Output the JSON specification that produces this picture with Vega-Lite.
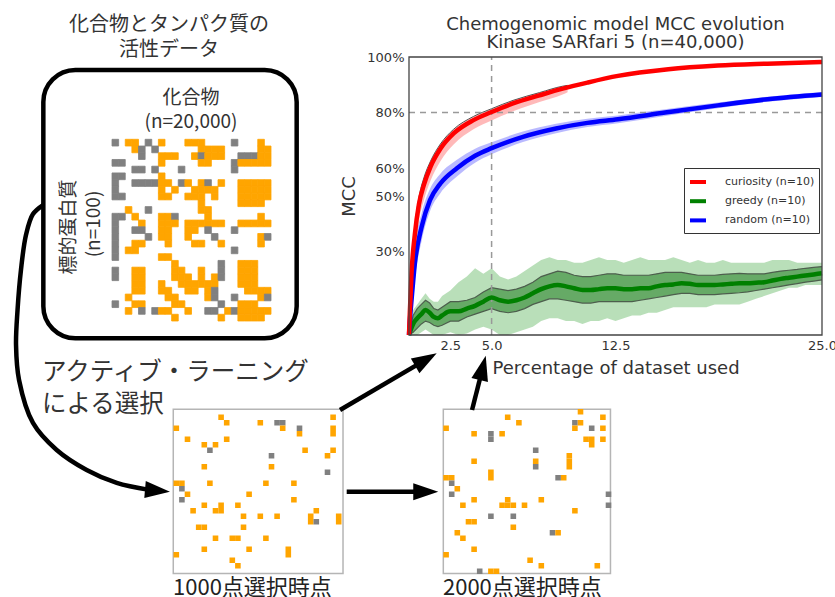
{
"$schema": "https://vega.github.io/schema/vega-lite/v6.json",
"width": 835, "height": 597, "autosize": {"type": "none"}, "padding": 0,
"background": "white",
"config": {"view": {"stroke": null}, "axis": {"labelFont": "DejaVu Sans", "titleFont": "DejaVu Sans"}},
"datasets": {
"roundBox": [{"u":5.19,"v":11.73,"u2":35.53,"v2":56.67}],
"smallBoxes": [{"u":20.75,"v":68.56,"u2":41.08,"v2":96.06},{"u":53.09,"v":68.56,"u2":73.11,"v2":96.06}],
"jpTitle": [{"t":"化合物とタンパク質の","u":20.24,"v":4.19},{"t":"活性データ","u":20.24,"v":8.38}],
"jpAxis": [{"t":"化合物","u":22.87,"v":16.47},{"t":"(n=20,000)","u":22.87,"v":20.39}],
"jpVert": [{"t":"標的蛋白質","u":8.26,"v":38.02},{"t":"(n=100)","u":11.26,"v":37.52}],
"jpAL": [{"t":"アクティブ・ラーニング","u":5.03,"v":62.48},{"t":"による選択","u":5.03,"v":67.84}],
"jpSel": [{"t":"1000点選択時点","u":20.72,"v":98.49},{"t":"2000点選択時点","u":53.05,"v":98.49}],
"chartTitle": [{"t":"Chemogenomic model MCC evolution","u":73.71,"v":4.19},{"t":"Kinase SARfari 5 (n=40,000)","u":73.71,"v":7.25}],
"curve": [{"i":0,"u":5.15,"v":34.34},{"i":1,"u":3.95,"v":35.85},{"i":2,"u":3.11,"v":39.36},{"i":3,"u":2.51,"v":45.23},{"i":4,"u":2.10,"v":51.93},{"i":5,"u":1.92,"v":57.79},{"i":6,"u":2.28,"v":63.65},{"i":7,"u":3.95,"v":70.85},{"i":8,"u":6.79,"v":75.38},{"i":9,"u":10.38,"v":78.73},{"i":10,"u":13.98,"v":80.90},{"i":11,"u":17.96,"v":82.08},{"i":12,"u":18.92,"v":82.24}],
"shafts": [{"u":41.52,"v":82.36,"u2":50.90,"v2":82.36},{"u":40.72,"v":68.68,"u2":51.02,"v2":60.23},{"u":56.53,"v":68.68,"u2":57.81,"v2":61.64}],
"heads": [{"u":18.86,"v":82.18,"a":5},{"u":50.99,"v":82.36,"a":0},{"u":51.01,"v":60.23,"a":-30.4},{"u":57.81,"v":61.61,"a":-76}],
"refs": [{"pct":5,"mcc":80}],
"big": [
{"c":0,"r":0,"k":"i"},{"c":2,"r":0,"k":"a"},{"c":3,"r":0,"k":"a"},{"c":5,"r":0,"k":"i"},{"c":7,"r":0,"k":"a"},{"c":11,"r":0,"k":"a"},{"c":12,"r":0,"k":"a"},{"c":13,"r":0,"k":"a"},{"c":18,"r":0,"k":"i"},{"c":22,"r":0,"k":"a"},
{"c":3,"r":1,"k":"a"},{"c":4,"r":1,"k":"i"},{"c":6,"r":1,"k":"i"},{"c":13,"r":1,"k":"a"},{"c":14,"r":1,"k":"a"},{"c":15,"r":1,"k":"a"},{"c":16,"r":1,"k":"a"},{"c":22,"r":1,"k":"a"},{"c":23,"r":1,"k":"a"},
{"c":4,"r":2,"k":"i"},{"c":7,"r":2,"k":"a"},{"c":8,"r":2,"k":"a"},{"c":9,"r":2,"k":"a"},{"c":12,"r":2,"k":"a"},{"c":13,"r":2,"k":"i"},{"c":14,"r":2,"k":"a"},{"c":15,"r":2,"k":"a"},{"c":16,"r":2,"k":"a"},{"c":19,"r":2,"k":"i"},{"c":20,"r":2,"k":"i"},{"c":21,"r":2,"k":"i"},{"c":22,"r":2,"k":"a"},{"c":23,"r":2,"k":"a"},
{"c":0,"r":3,"k":"i"},{"c":1,"r":3,"k":"i"},{"c":7,"r":3,"k":"a"},{"c":13,"r":3,"k":"a"},{"c":14,"r":3,"k":"a"},{"c":18,"r":3,"k":"i"},{"c":19,"r":3,"k":"a"},{"c":20,"r":3,"k":"a"},{"c":21,"r":3,"k":"a"},{"c":22,"r":3,"k":"a"},{"c":23,"r":3,"k":"a"},
{"c":3,"r":4,"k":"i"},{"c":4,"r":4,"k":"i"},{"c":6,"r":4,"k":"i"},{"c":10,"r":4,"k":"i"},{"c":18,"r":4,"k":"i"},
{"c":0,"r":5,"k":"i"},{"c":1,"r":5,"k":"i"},{"c":7,"r":5,"k":"a"},
{"c":0,"r":6,"k":"i"},{"c":3,"r":6,"k":"i"},{"c":4,"r":6,"k":"i"},{"c":5,"r":6,"k":"i"},{"c":6,"r":6,"k":"i"},{"c":7,"r":6,"k":"a"},{"c":8,"r":6,"k":"a"},{"c":10,"r":6,"k":"i"},{"c":11,"r":6,"k":"a"},{"c":13,"r":6,"k":"a"},{"c":14,"r":6,"k":"i"},{"c":16,"r":6,"k":"a"},{"c":19,"r":6,"k":"a"},{"c":20,"r":6,"k":"a"},{"c":21,"r":6,"k":"a"},{"c":22,"r":6,"k":"a"},{"c":23,"r":6,"k":"a"},
{"c":0,"r":7,"k":"i"},{"c":7,"r":7,"k":"a"},{"c":9,"r":7,"k":"a"},{"c":12,"r":7,"k":"a"},{"c":13,"r":7,"k":"a"},{"c":14,"r":7,"k":"a"},{"c":15,"r":7,"k":"a"},{"c":19,"r":7,"k":"a"},{"c":20,"r":7,"k":"a"},{"c":21,"r":7,"k":"a"},{"c":22,"r":7,"k":"a"},{"c":23,"r":7,"k":"a"},
{"c":0,"r":8,"k":"i"},{"c":1,"r":8,"k":"i"},{"c":7,"r":8,"k":"a"},{"c":8,"r":8,"k":"a"},{"c":11,"r":8,"k":"a"},{"c":12,"r":8,"k":"a"},{"c":13,"r":8,"k":"a"},{"c":15,"r":8,"k":"a"},{"c":19,"r":8,"k":"a"},{"c":20,"r":8,"k":"a"},{"c":21,"r":8,"k":"a"},{"c":22,"r":8,"k":"a"},{"c":23,"r":8,"k":"a"},
{"c":13,"r":9,"k":"a"},{"c":19,"r":9,"k":"a"},{"c":20,"r":9,"k":"a"},{"c":21,"r":9,"k":"a"},{"c":22,"r":9,"k":"a"},
{"c":2,"r":10,"k":"a"},{"c":5,"r":10,"k":"i"},{"c":13,"r":10,"k":"a"},{"c":14,"r":10,"k":"a"},
{"c":0,"r":11,"k":"i"},{"c":1,"r":11,"k":"i"},{"c":3,"r":11,"k":"a"},{"c":7,"r":11,"k":"a"},{"c":8,"r":11,"k":"a"},{"c":9,"r":11,"k":"i"},{"c":14,"r":11,"k":"a"},{"c":22,"r":11,"k":"a"},
{"c":0,"r":12,"k":"i"},{"c":4,"r":12,"k":"a"},{"c":7,"r":12,"k":"a"},{"c":8,"r":12,"k":"a"},{"c":9,"r":12,"k":"a"},{"c":11,"r":12,"k":"a"},{"c":12,"r":12,"k":"a"},{"c":13,"r":12,"k":"a"},{"c":14,"r":12,"k":"a"},{"c":15,"r":12,"k":"a"},{"c":16,"r":12,"k":"a"},{"c":19,"r":12,"k":"a"},{"c":20,"r":12,"k":"a"},{"c":21,"r":12,"k":"a"},{"c":22,"r":12,"k":"a"},{"c":23,"r":12,"k":"a"},
{"c":0,"r":13,"k":"i"},{"c":3,"r":13,"k":"i"},{"c":4,"r":13,"k":"i"},{"c":7,"r":13,"k":"a"},{"c":8,"r":13,"k":"a"},{"c":11,"r":13,"k":"a"},{"c":12,"r":13,"k":"a"},{"c":14,"r":13,"k":"i"},{"c":18,"r":13,"k":"i"},
{"c":0,"r":14,"k":"i"},{"c":5,"r":14,"k":"i"},{"c":7,"r":14,"k":"a"},{"c":8,"r":14,"k":"a"},{"c":11,"r":14,"k":"a"},{"c":15,"r":14,"k":"i"},{"c":22,"r":14,"k":"a"},{"c":23,"r":14,"k":"i"},
{"c":0,"r":15,"k":"i"},{"c":3,"r":15,"k":"a"},{"c":4,"r":15,"k":"a"},{"c":8,"r":15,"k":"a"},{"c":12,"r":15,"k":"a"},{"c":13,"r":15,"k":"a"},{"c":16,"r":15,"k":"a"},{"c":22,"r":15,"k":"a"},
{"c":0,"r":16,"k":"i"},{"c":2,"r":16,"k":"a"},{"c":3,"r":16,"k":"a"},{"c":18,"r":16,"k":"i"},
{"c":0,"r":17,"k":"i"},{"c":7,"r":17,"k":"a"},{"c":8,"r":17,"k":"a"},
{"c":9,"r":18,"k":"a"},{"c":16,"r":18,"k":"i"},{"c":19,"r":18,"k":"a"},{"c":20,"r":18,"k":"a"},{"c":21,"r":18,"k":"a"},
{"c":0,"r":19,"k":"i"},{"c":3,"r":19,"k":"a"},{"c":4,"r":19,"k":"a"},{"c":9,"r":19,"k":"a"},{"c":10,"r":19,"k":"a"},{"c":13,"r":19,"k":"a"},{"c":16,"r":19,"k":"i"},{"c":19,"r":19,"k":"a"},{"c":20,"r":19,"k":"a"},{"c":21,"r":19,"k":"a"},
{"c":0,"r":20,"k":"i"},{"c":3,"r":20,"k":"a"},{"c":4,"r":20,"k":"a"},{"c":9,"r":20,"k":"a"},{"c":10,"r":20,"k":"a"},{"c":11,"r":20,"k":"a"},{"c":13,"r":20,"k":"a"},{"c":15,"r":20,"k":"a"},{"c":16,"r":20,"k":"i"},{"c":19,"r":20,"k":"a"},{"c":20,"r":20,"k":"a"},{"c":21,"r":20,"k":"a"},
{"c":3,"r":21,"k":"a"},{"c":4,"r":21,"k":"a"},{"c":7,"r":21,"k":"a"},{"c":10,"r":21,"k":"a"},{"c":11,"r":21,"k":"a"},{"c":12,"r":21,"k":"a"},{"c":13,"r":21,"k":"a"},{"c":14,"r":21,"k":"a"},{"c":15,"r":21,"k":"a"},{"c":19,"r":21,"k":"a"},{"c":20,"r":21,"k":"a"},{"c":21,"r":21,"k":"a"},
{"c":3,"r":22,"k":"a"},{"c":4,"r":22,"k":"a"},{"c":7,"r":22,"k":"a"},{"c":8,"r":22,"k":"a"},{"c":11,"r":22,"k":"a"},{"c":12,"r":22,"k":"a"},{"c":14,"r":22,"k":"a"},{"c":15,"r":22,"k":"i"},{"c":20,"r":22,"k":"a"},{"c":21,"r":22,"k":"a"},{"c":22,"r":22,"k":"a"},{"c":23,"r":22,"k":"a"},
{"c":2,"r":23,"k":"a"},{"c":8,"r":23,"k":"a"},{"c":9,"r":23,"k":"a"},{"c":14,"r":23,"k":"a"},{"c":15,"r":23,"k":"i"},{"c":18,"r":23,"k":"i"},{"c":22,"r":23,"k":"a"},{"c":23,"r":23,"k":"i"},
{"c":0,"r":24,"k":"i"},{"c":3,"r":24,"k":"a"},{"c":4,"r":24,"k":"a"},{"c":9,"r":24,"k":"a"},{"c":10,"r":24,"k":"a"},{"c":16,"r":24,"k":"i"},{"c":19,"r":24,"k":"a"},{"c":20,"r":24,"k":"a"},{"c":21,"r":24,"k":"a"},
{"c":2,"r":25,"k":"a"},{"c":4,"r":25,"k":"i"},{"c":6,"r":25,"k":"i"},{"c":7,"r":25,"k":"a"},{"c":8,"r":25,"k":"a"},{"c":11,"r":25,"k":"a"},{"c":14,"r":25,"k":"i"},{"c":15,"r":25,"k":"i"},{"c":17,"r":25,"k":"a"},{"c":18,"r":25,"k":"i"},{"c":19,"r":25,"k":"a"},{"c":20,"r":25,"k":"a"},{"c":21,"r":25,"k":"a"},{"c":22,"r":25,"k":"a"},{"c":23,"r":25,"k":"a"},
{"c":9,"r":26,"k":"a"},{"c":16,"r":26,"k":"a"},{"c":19,"r":26,"k":"a"},{"c":20,"r":26,"k":"a"},{"c":21,"r":26,"k":"a"},{"c":22,"r":26,"k":"a"}
],
"s1": [
{"c":8,"r":1,"k":"a"},{"c":28,"r":1,"k":"a"},{"c":9,"r":2,"k":"a"},{"c":15,"r":2,"k":"a"},{"c":18,"r":2,"k":"i"},{"c":19,"r":2,"k":"i"},{"c":0,"r":3,"k":"a"},{"c":19,"r":3,"k":"a"},{"c":22,"r":3,"k":"i"},{"c":28,"r":3,"k":"a"},{"c":22,"r":4,"k":"a"},{"c":28,"r":4,"k":"a"},{"c":2,"r":5,"k":"a"},{"c":9,"r":5,"k":"a"},{"c":5,"r":6,"k":"a"},{"c":7,"r":6,"k":"a"},{"c":6,"r":7,"k":"i"},{"c":23,"r":7,"k":"a"},{"c":28,"r":7,"k":"a"},{"c":17,"r":8,"k":"i"},{"c":27,"r":8,"k":"a"},{"c":5,"r":10,"k":"a"},{"c":17,"r":10,"k":"a"},{"c":27,"r":11,"k":"i"},{"c":0,"r":13,"k":"a"},{"c":1,"r":13,"k":"a"},{"c":6,"r":13,"k":"a"},{"c":16,"r":13,"k":"a"},{"c":21,"r":13,"k":"a"},{"c":1,"r":14,"k":"i"},{"c":2,"r":15,"k":"a"},{"c":13,"r":15,"k":"a"},{"c":1,"r":16,"k":"i"},{"c":21,"r":16,"k":"a"},{"c":5,"r":17,"k":"a"},{"c":8,"r":17,"k":"a"},{"c":11,"r":17,"k":"a"},{"c":3,"r":18,"k":"a"},{"c":7,"r":18,"k":"a"},{"c":8,"r":18,"k":"a"},{"c":25,"r":18,"k":"a"},{"c":12,"r":19,"k":"a"},{"c":15,"r":19,"k":"a"},{"c":18,"r":19,"k":"a"},{"c":24,"r":19,"k":"a"},{"c":29,"r":19,"k":"a"},{"c":24,"r":20,"k":"a"},{"c":25,"r":20,"k":"i"},{"c":29,"r":20,"k":"a"},{"c":4,"r":21,"k":"a"},{"c":5,"r":21,"k":"a"},{"c":12,"r":21,"k":"a"},{"c":7,"r":23,"k":"a"},{"c":10,"r":23,"k":"a"},{"c":11,"r":23,"k":"a"},{"c":16,"r":23,"k":"a"},{"c":5,"r":25,"k":"a"},{"c":13,"r":25,"k":"a"},{"c":20,"r":25,"k":"a"},{"c":0,"r":26,"k":"a"},{"c":20,"r":26,"k":"a"},{"c":10,"r":27,"k":"a"},{"c":11,"r":28,"k":"a"}
],
"s2": [
{"c":24,"r":0,"k":"a"},{"c":11,"r":1,"k":"a"},{"c":28,"r":1,"k":"a"},{"c":13,"r":2,"k":"a"},{"c":23,"r":2,"k":"i"},{"c":24,"r":2,"k":"a"},{"c":0,"r":3,"k":"a"},{"c":23,"r":3,"k":"a"},{"c":26,"r":3,"k":"i"},{"c":28,"r":3,"k":"a"},{"c":5,"r":4,"k":"a"},{"c":8,"r":4,"k":"i"},{"c":10,"r":4,"k":"a"},{"c":8,"r":5,"k":"i"},{"c":25,"r":5,"k":"a"},{"c":26,"r":5,"k":"a"},{"c":28,"r":5,"k":"a"},{"c":26,"r":6,"k":"a"},{"c":16,"r":7,"k":"i"},{"c":22,"r":8,"k":"a"},{"c":5,"r":9,"k":"a"},{"c":16,"r":9,"k":"a"},{"c":22,"r":9,"k":"a"},{"c":16,"r":10,"k":"i"},{"c":22,"r":10,"k":"a"},{"c":8,"r":11,"k":"a"},{"c":0,"r":12,"k":"a"},{"c":1,"r":12,"k":"a"},{"c":8,"r":12,"k":"a"},{"c":20,"r":12,"k":"i"},{"c":21,"r":12,"k":"a"},{"c":1,"r":13,"k":"i"},{"c":2,"r":14,"k":"a"},{"c":1,"r":15,"k":"i"},{"c":29,"r":15,"k":"i"},{"c":5,"r":16,"k":"a"},{"c":11,"r":16,"k":"a"},{"c":17,"r":16,"k":"a"},{"c":3,"r":17,"k":"a"},{"c":10,"r":17,"k":"a"},{"c":11,"r":17,"k":"a"},{"c":12,"r":17,"k":"a"},{"c":14,"r":17,"k":"a"},{"c":29,"r":17,"k":"i"},{"c":23,"r":18,"k":"a"},{"c":8,"r":19,"k":"i"},{"c":12,"r":19,"k":"i"},{"c":4,"r":20,"k":"a"},{"c":5,"r":20,"k":"a"},{"c":12,"r":21,"k":"a"},{"c":2,"r":22,"k":"a"},{"c":19,"r":22,"k":"i"},{"c":20,"r":22,"k":"a"},{"c":3,"r":23,"k":"a"},{"c":5,"r":25,"k":"a"},{"c":0,"r":26,"k":"a"},{"c":15,"r":27,"k":"a"},{"c":17,"r":28,"k":"a"},{"c":27,"r":28,"k":"a"},{"c":6,"r":29,"k":"i"},{"c":8,"r":29,"k":"a"},{"c":9,"r":29,"k":"a"}
],
"gband": [
{"x":0,"lo":0,"hi":0,"slo":0,"shi":0},{"x":0.25,"lo":0,"hi":9,"slo":1,"shi":7},{"x":0.5,"lo":0,"hi":11,"slo":2.5,"shi":9.5},{"x":0.75,"lo":1,"hi":13,"slo":4,"shi":11},{"x":1,"lo":2,"hi":15,"slo":5,"shi":12.5},{"x":1.25,"lo":1,"hi":13,"slo":4.5,"shi":11.5},{"x":1.5,"lo":0,"hi":12,"slo":3.5,"shi":9.5},{"x":1.75,"lo":0,"hi":12,"slo":3,"shi":9},{"x":2,"lo":0,"hi":14,"slo":3.5,"shi":10},{"x":2.5,"lo":1,"hi":16,"slo":5,"shi":12},{"x":3,"lo":0,"hi":19,"slo":5,"shi":12},{"x":3.5,"lo":0.5,"hi":21,"slo":6.5,"shi":12.5},{"x":4,"lo":2,"hi":24,"slo":7.5,"shi":13.5},{"x":4.5,"lo":3,"hi":22,"slo":8.5,"shi":15.5},{"x":5,"lo":2,"hi":24,"slo":9.5,"shi":17},{"x":5.5,"lo":0,"hi":21,"slo":8.5,"shi":16.5},{"x":6,"lo":0,"hi":20,"slo":8,"shi":16},{"x":6.5,"lo":1,"hi":21,"slo":8.5,"shi":16.5},{"x":7,"lo":2,"hi":23,"slo":9.5,"shi":17.5},{"x":7.5,"lo":3,"hi":25,"slo":11,"shi":19},{"x":8,"lo":5,"hi":27,"slo":12,"shi":21},{"x":8.5,"lo":6,"hi":28,"slo":13,"shi":22},{"x":9,"lo":6,"hi":27,"slo":13,"shi":23},{"x":9.5,"lo":5,"hi":27,"slo":12.5,"shi":22.5},{"x":10,"lo":5,"hi":26,"slo":12,"shi":21.5},{"x":10.5,"lo":4,"hi":26,"slo":11.5,"shi":21},{"x":11,"lo":5,"hi":27,"slo":11.5,"shi":21},{"x":11.5,"lo":5,"hi":28,"slo":12,"shi":21.5},{"x":12,"lo":6,"hi":27,"slo":12,"shi":22},{"x":12.5,"lo":5,"hi":27,"slo":12,"shi":22},{"x":13,"lo":6,"hi":26,"slo":12,"shi":21.5},{"x":13.5,"lo":7,"hi":27,"slo":12,"shi":21.5},{"x":14,"lo":7,"hi":28,"slo":12.5,"shi":21.5},{"x":14.5,"lo":8,"hi":27,"slo":13,"shi":21.5},{"x":15,"lo":8,"hi":27,"slo":13.5,"shi":22},{"x":15.5,"lo":9,"hi":27,"slo":14,"shi":22.5},{"x":16,"lo":10,"hi":28,"slo":14.5,"shi":22.5},{"x":16.5,"lo":10,"hi":27,"slo":15,"shi":22.5},{"x":17,"lo":10,"hi":26,"slo":15,"shi":22},{"x":17.5,"lo":10,"hi":27,"slo":14.5,"shi":21.5},{"x":18,"lo":10,"hi":26,"slo":14.5,"shi":21.5},{"x":18.5,"lo":11,"hi":26,"slo":14.5,"shi":21.5},{"x":19,"lo":11,"hi":27,"slo":14.8,"shi":21.8},{"x":19.5,"lo":11,"hi":26,"slo":15,"shi":22},{"x":20,"lo":11,"hi":26,"slo":15.2,"shi":22.2},{"x":20.5,"lo":12,"hi":26,"slo":15.5,"shi":22},{"x":21,"lo":13,"hi":26,"slo":16,"shi":22},{"x":21.5,"lo":14,"hi":26,"slo":16.5,"shi":22},{"x":22,"lo":15,"hi":27,"slo":17,"shi":22.5},{"x":22.5,"lo":16,"hi":27,"slo":17.5,"shi":23},{"x":23,"lo":17,"hi":27,"slo":18,"shi":23.3},{"x":23.5,"lo":17,"hi":26,"slo":18.5,"shi":23.6},{"x":24,"lo":18,"hi":26,"slo":19,"shi":24},{"x":24.5,"lo":18,"hi":26,"slo":19.4,"shi":24.3},{"x":25,"lo":18,"hi":26,"slo":19.8,"shi":24.6}
],
"rband": [{"x":0,"lo":0,"hi":0},{"x":0.05,"lo":3,"hi":11},{"x":0.15,"lo":15,"hi":25},{"x":0.35,"lo":29,"hi":39},{"x":0.6,"lo":41,"hi":49.5},{"x":0.9,"lo":48.5,"hi":56.5},{"x":1.3,"lo":55.5,"hi":62.5},{"x":1.9,"lo":62.5,"hi":68.7},{"x":2.7,"lo":68.5,"hi":74},{"x":3.9,"lo":74,"hi":78.6},{"x":5,"lo":77.2,"hi":81.4},{"x":6.3,"lo":80.5,"hi":84.4},{"x":7.9,"lo":83.8,"hi":87.2},{"x":9.3,"lo":86.5,"hi":89.5},{"x":9.6,"lo":87.3,"hi":89.8}],
"bband": [{"x":0,"lo":0,"hi":0},{"x":0.05,"lo":1,"hi":9},{"x":0.16,"lo":7,"hi":19},{"x":0.36,"lo":20,"hi":32},{"x":0.77,"lo":34,"hi":44},{"x":1.27,"lo":44.5,"hi":52.5},{"x":1.9,"lo":51,"hi":58},{"x":2.9,"lo":57,"hi":63},{"x":4,"lo":62,"hi":67},{"x":5,"lo":65,"hi":69.3},{"x":6.9,"lo":69.4,"hi":73.2},{"x":8.9,"lo":72.6,"hi":76},{"x":10.8,"lo":74.8,"hi":77.8},{"x":12.65,"lo":76.2,"hi":79},{"x":15.5,"lo":78.8,"hi":81.2},{"x":18.7,"lo":81.6,"hi":83.6},{"x":21.7,"lo":83.9,"hi":85.7},{"x":25,"lo":85.6,"hi":87.4}],
"means": [
{"method":"greedy (n=10)","x":0,"mcc":0},{"method":"greedy (n=10)","x":0.25,"mcc":4},{"method":"greedy (n=10)","x":0.5,"mcc":6},{"method":"greedy (n=10)","x":0.75,"mcc":7.5},{"method":"greedy (n=10)","x":1,"mcc":9},{"method":"greedy (n=10)","x":1.25,"mcc":8},{"method":"greedy (n=10)","x":1.5,"mcc":6.5},{"method":"greedy (n=10)","x":1.75,"mcc":6},{"method":"greedy (n=10)","x":2,"mcc":7},{"method":"greedy (n=10)","x":2.5,"mcc":8.5},{"method":"greedy (n=10)","x":3,"mcc":8.5},{"method":"greedy (n=10)","x":3.5,"mcc":9.5},{"method":"greedy (n=10)","x":4,"mcc":10.5},{"method":"greedy (n=10)","x":4.5,"mcc":12},{"method":"greedy (n=10)","x":5,"mcc":13.5},{"method":"greedy (n=10)","x":5.5,"mcc":12.5},{"method":"greedy (n=10)","x":6,"mcc":12},{"method":"greedy (n=10)","x":6.5,"mcc":12.5},{"method":"greedy (n=10)","x":7,"mcc":13.5},{"method":"greedy (n=10)","x":7.5,"mcc":15},{"method":"greedy (n=10)","x":8,"mcc":16.5},{"method":"greedy (n=10)","x":8.5,"mcc":17.5},{"method":"greedy (n=10)","x":9,"mcc":18},{"method":"greedy (n=10)","x":9.5,"mcc":17.5},{"method":"greedy (n=10)","x":10,"mcc":16.8},{"method":"greedy (n=10)","x":10.5,"mcc":16.2},{"method":"greedy (n=10)","x":11,"mcc":16.2},{"method":"greedy (n=10)","x":11.5,"mcc":16.5},{"method":"greedy (n=10)","x":12,"mcc":16.8},{"method":"greedy (n=10)","x":12.5,"mcc":16.8},{"method":"greedy (n=10)","x":13,"mcc":16.5},{"method":"greedy (n=10)","x":13.5,"mcc":16.5},{"method":"greedy (n=10)","x":14,"mcc":16.8},{"method":"greedy (n=10)","x":14.5,"mcc":16.8},{"method":"greedy (n=10)","x":15,"mcc":17.5},{"method":"greedy (n=10)","x":15.5,"mcc":18},{"method":"greedy (n=10)","x":16,"mcc":18.2},{"method":"greedy (n=10)","x":16.5,"mcc":18.6},{"method":"greedy (n=10)","x":17,"mcc":18.4},{"method":"greedy (n=10)","x":17.5,"mcc":18},{"method":"greedy (n=10)","x":18,"mcc":18},{"method":"greedy (n=10)","x":18.5,"mcc":18},{"method":"greedy (n=10)","x":19,"mcc":18.2},{"method":"greedy (n=10)","x":19.5,"mcc":18.4},{"method":"greedy (n=10)","x":20,"mcc":18.6},{"method":"greedy (n=10)","x":20.5,"mcc":18.6},{"method":"greedy (n=10)","x":21,"mcc":18.8},{"method":"greedy (n=10)","x":21.5,"mcc":19},{"method":"greedy (n=10)","x":22,"mcc":19.6},{"method":"greedy (n=10)","x":22.5,"mcc":20.2},{"method":"greedy (n=10)","x":23,"mcc":20.6},{"method":"greedy (n=10)","x":23.5,"mcc":21},{"method":"greedy (n=10)","x":24,"mcc":21.4},{"method":"greedy (n=10)","x":24.5,"mcc":21.8},{"method":"greedy (n=10)","x":25,"mcc":22.2},
{"method":"random (n=10)","x":0,"mcc":0},{"method":"random (n=10)","x":0.05,"mcc":5},{"method":"random (n=10)","x":0.16,"mcc":13},{"method":"random (n=10)","x":0.36,"mcc":26},{"method":"random (n=10)","x":0.77,"mcc":39},{"method":"random (n=10)","x":1.27,"mcc":48.5},{"method":"random (n=10)","x":1.9,"mcc":54.5},{"method":"random (n=10)","x":2.9,"mcc":60},{"method":"random (n=10)","x":4,"mcc":64.5},{"method":"random (n=10)","x":5,"mcc":67.2},{"method":"random (n=10)","x":6.9,"mcc":71.3},{"method":"random (n=10)","x":8.9,"mcc":74.3},{"method":"random (n=10)","x":10.8,"mcc":76.3},{"method":"random (n=10)","x":12.65,"mcc":77.6},{"method":"random (n=10)","x":15.5,"mcc":80},{"method":"random (n=10)","x":18.7,"mcc":82.6},{"method":"random (n=10)","x":21.7,"mcc":84.8},{"method":"random (n=10)","x":25,"mcc":86.5},
{"method":"curiosity (n=10)","x":0,"mcc":0},{"method":"curiosity (n=10)","x":0.05,"mcc":8},{"method":"curiosity (n=10)","x":0.15,"mcc":22},{"method":"curiosity (n=10)","x":0.35,"mcc":36},{"method":"curiosity (n=10)","x":0.6,"mcc":47},{"method":"curiosity (n=10)","x":0.9,"mcc":54},{"method":"curiosity (n=10)","x":1.3,"mcc":60.5},{"method":"curiosity (n=10)","x":1.9,"mcc":67},{"method":"curiosity (n=10)","x":2.7,"mcc":72.5},{"method":"curiosity (n=10)","x":3.9,"mcc":77.3},{"method":"curiosity (n=10)","x":5,"mcc":80.2},{"method":"curiosity (n=10)","x":6.3,"mcc":83.3},{"method":"curiosity (n=10)","x":7.9,"mcc":86.2},{"method":"curiosity (n=10)","x":9.3,"mcc":88.6},{"method":"curiosity (n=10)","x":10.8,"mcc":90.8},{"method":"curiosity (n=10)","x":12.65,"mcc":93.2},{"method":"curiosity (n=10)","x":15.7,"mcc":95.6},{"method":"curiosity (n=10)","x":18.7,"mcc":96.9},{"method":"curiosity (n=10)","x":21.7,"mcc":97.6},{"method":"curiosity (n=10)","x":25,"mcc":98.2}
]
},
"layer": [
{
"layer": [
{"data":{"name":"roundBox"},"mark":{"type":"rect","cornerRadius":32,"stroke":"#000","strokeWidth":4.5,"fill":"transparent"},
 "encoding":{"x":{"field":"u","type":"quantitative","scale":{"domain":[0,100],"range":[0,835],"nice":false,"zero":false},"axis":null},
  "y":{"field":"v","type":"quantitative","scale":{"domain":[0,100],"range":[0,597],"nice":false,"zero":false},"axis":null},
  "x2":{"field":"u2"},"y2":{"field":"v2"}}},
{"data":{"name":"smallBoxes"},"mark":{"type":"rect","stroke":"#b5b5b5","strokeWidth":1.5,"fill":"transparent"},
 "encoding":{"x":{"field":"u","type":"quantitative"},"y":{"field":"v","type":"quantitative"},"x2":{"field":"u2"},"y2":{"field":"v2"}}}
]
},
{"data":{"name":"big"},"mark":{"type":"rect","strokeWidth":0.8},
 "encoding":{
  "x":{"field":"c","type":"ordinal","scale":{"domain":[0,1,2,3,4,5,6,7,8,9,10,11,12,13,14,15,16,17,18,19,20,21,22,23],"range":[112,271],"paddingInner":0,"paddingOuter":0},"axis":null},
  "y":{"field":"r","type":"ordinal","scale":{"domain":[0,1,2,3,4,5,6,7,8,9,10,11,12,13,14,15,16,17,18,19,20,21,22,23,24,25,26],"range":[139.3,321],"paddingInner":0,"paddingOuter":0},"axis":null},
  "color":{"field":"k","type":"nominal","scale":{"domain":["a","i"],"range":["#ffa500","#808080"]},"legend":null},
  "stroke":{"field":"k","type":"nominal","scale":{"domain":["a","i"],"range":["#ffa500","#808080"]},"legend":null}}},
{"data":{"name":"s1"},"mark":{"type":"rect"},
 "encoding":{
  "x":{"field":"c","type":"ordinal","scale":{"domain":[0,1,2,3,4,5,6,7,8,9,10,11,12,13,14,15,16,17,18,19,20,21,22,23,24,25,26,27,28,29],"range":[173.5,341.5],"paddingInner":0,"paddingOuter":0},"axis":null},
  "y":{"field":"r","type":"ordinal","scale":{"domain":[0,1,2,3,4,5,6,7,8,9,10,11,12,13,14,15,16,17,18,19,20,21,22,23,24,25,26,27,28,29],"range":[409,574],"paddingInner":0,"paddingOuter":0},"axis":null},
  "color":{"field":"k","type":"nominal","scale":{"domain":["a","i"],"range":["#ffa500","#808080"]},"legend":null}}},
{"data":{"name":"s2"},"mark":{"type":"rect"},
 "encoding":{
  "x":{"field":"c","type":"ordinal","scale":{"domain":[0,1,2,3,4,5,6,7,8,9,10,11,12,13,14,15,16,17,18,19,20,21,22,23,24,25,26,27,28,29],"range":[443.3,611.3],"paddingInner":0,"paddingOuter":0},"axis":null},
  "y":{"field":"r","type":"ordinal","scale":{"domain":[0,1,2,3,4,5,6,7,8,9,10,11,12,13,14,15,16,17,18,19,20,21,22,23,24,25,26,27,28,29],"range":[409,574],"paddingInner":0,"paddingOuter":0},"axis":null},
  "color":{"field":"k","type":"nominal","scale":{"domain":["a","i"],"range":["#ffa500","#808080"]},"legend":null}}},
{
"layer": [
{"data":{"name":"gband"},"mark":{"type":"area","color":"#b5ddb5","opacity":0.95},
 "encoding":{
  "x":{"field":"x","type":"quantitative","scale":{"domain":[0,25],"range":[409,822],"nice":false,"zero":false},
   "axis":{"orient":"bottom","offset":-262,"values":[2.5,5,12.5,25],"format":".1f","domain":false,"ticks":false,"grid":false,"labelFontSize":13,"labelColor":"#333","labelPadding":4,"labelFlush":false,"labelOverlap":false,"title":"Percentage of dataset used","titleFontSize":18,"titleFontWeight":"normal","titleColor":"#333","titlePadding":7}},
  "y":{"field":"hi","type":"quantitative","scale":{"domain":[0,100],"range":[335,57],"nice":false,"zero":false},
   "axis":{"orient":"left","offset":-409,"values":[30,50,60,80,100],"labelExpr":"datum.value + '%'","domain":false,"ticks":false,"grid":false,"labelFontSize":13,"labelColor":"#333","labelPadding":5,"labelOverlap":false,"title":"MCC","titleFontSize":18,"titleFontWeight":"normal","titleColor":"#333","titlePadding":8}},
  "y2":{"field":"lo"}}},
{"data":{"name":"gband"},"mark":{"type":"area","color":"#4b984b","opacity":0.75},
 "encoding":{"x":{"field":"x","type":"quantitative"},"y":{"field":"shi","type":"quantitative"},"y2":{"field":"slo"}}},
{"data":{"name":"gband"},"mark":{"type":"line","color":"#4d5e4d","strokeWidth":1.2},
 "encoding":{"x":{"field":"x","type":"quantitative"},"y":{"field":"shi","type":"quantitative"}}},
{"data":{"name":"gband"},"mark":{"type":"line","color":"#4d5e4d","strokeWidth":1.2},
 "encoding":{"x":{"field":"x","type":"quantitative"},"y":{"field":"slo","type":"quantitative"}}},
{"data":{"name":"bband"},"mark":{"type":"area","color":"#7f7fff","opacity":0.55,"interpolate":"monotone"},
 "encoding":{"x":{"field":"x","type":"quantitative"},"y":{"field":"hi","type":"quantitative"},"y2":{"field":"lo"}}},
{"data":{"name":"rband"},"mark":{"type":"area","color":"#ff8080","opacity":0.55,"interpolate":"monotone"},
 "encoding":{"x":{"field":"x","type":"quantitative"},"y":{"field":"hi","type":"quantitative"},"y2":{"field":"lo"}}},
{"data":{"name":"rband"},"mark":{"type":"line","color":"#555555","strokeWidth":1,"interpolate":"monotone"},
 "encoding":{"x":{"field":"x","type":"quantitative"},"y":{"field":"hi","type":"quantitative"}}},
{"data":{"name":"refs"},"mark":{"type":"rule","color":"#999999","strokeWidth":1.5,"strokeDash":[6,5]},
 "encoding":{"x":{"datum":0,"type":"quantitative"},"x2":{"datum":25},"y":{"field":"mcc","type":"quantitative"}}},
{"data":{"name":"refs"},"mark":{"type":"rule","color":"#999999","strokeWidth":1.5,"strokeDash":[6,5]},
 "encoding":{"x":{"field":"pct","type":"quantitative"},"y":{"datum":0,"type":"quantitative"},"y2":{"datum":100}}},
{"data":{"name":"means"},"mark":{"type":"line","strokeWidth":4.5,"interpolate":"monotone"},
 "encoding":{"x":{"field":"x","type":"quantitative"},"y":{"field":"mcc","type":"quantitative"},
  "color":{"field":"method","type":"nominal","scale":{"domain":["curiosity (n=10)","greedy (n=10)","random (n=10)"],"range":["#ff0000","#008000","#0000ff"]},
   "legend":{"orient":"none","legendX":684,"legendY":168,"title":null,"direction":"vertical","symbolType":"stroke","symbolStrokeWidth":4,"symbolSize":256,"labelFont":"DejaVu Sans","labelFontSize":11,"labelColor":"#333","strokeColor":"#333","fillColor":"#ffffff","padding":4,"rowPadding":1.2,"labelOffset":17}}}},
{"data":{"name":"refs"},"mark":{"type":"rect","fill":"transparent","stroke":"#444","strokeWidth":1.3},
 "encoding":{"x":{"datum":0,"type":"quantitative"},"x2":{"datum":25},"y":{"datum":0,"type":"quantitative"},"y2":{"datum":100}}}
]
},
{
"layer": [
{"data":{"name":"jpTitle"},"mark":{"type":"text","font":"Noto Sans CJK JP","fontSize":20,"align":"center","baseline":"middle","color":"#333"},
 "encoding":{"x":{"field":"u","type":"quantitative","scale":{"domain":[0,100],"range":[0,835],"nice":false,"zero":false},"axis":null},
  "y":{"field":"v","type":"quantitative","scale":{"domain":[0,100],"range":[0,597],"nice":false,"zero":false},"axis":null},"text":{"field":"t"}}},
{"data":{"name":"jpAxis"},"mark":{"type":"text","font":"Noto Sans CJK JP","fontSize":19,"align":"center","baseline":"middle","color":"#333"},
 "encoding":{"x":{"field":"u","type":"quantitative"},"y":{"field":"v","type":"quantitative"},"text":{"field":"t"}}},
{"data":{"name":"jpVert"},"mark":{"type":"text","font":"Noto Sans CJK JP","fontSize":19,"align":"center","baseline":"middle","angle":270,"color":"#333"},
 "encoding":{"x":{"field":"u","type":"quantitative"},"y":{"field":"v","type":"quantitative"},"text":{"field":"t"}}},
{"data":{"name":"jpAL"},"mark":{"type":"text","font":"Noto Sans CJK JP","fontSize":24.5,"align":"left","baseline":"middle","color":"#333"},
 "encoding":{"x":{"field":"u","type":"quantitative"},"y":{"field":"v","type":"quantitative"},"text":{"field":"t"}}},
{"data":{"name":"jpSel"},"mark":{"type":"text","font":"Noto Sans CJK JP","fontSize":22,"align":"left","baseline":"middle","color":"#222"},
 "encoding":{"x":{"field":"u","type":"quantitative"},"y":{"field":"v","type":"quantitative"},"text":{"field":"t"}}},
{"data":{"name":"chartTitle"},"mark":{"type":"text","font":"DejaVu Sans","fontSize":18,"align":"center","baseline":"middle","color":"#333"},
 "encoding":{"x":{"field":"u","type":"quantitative"},"y":{"field":"v","type":"quantitative"},"text":{"field":"t"}}},
{"data":{"name":"curve"},"mark":{"type":"line","interpolate":"catmull-rom","color":"#000","strokeWidth":4.5},
 "encoding":{"x":{"field":"u","type":"quantitative"},"y":{"field":"v","type":"quantitative"},"order":{"field":"i","type":"quantitative"}}},
{"data":{"name":"shafts"},"mark":{"type":"rule","color":"#000","strokeWidth":4.5},
 "encoding":{"x":{"field":"u","type":"quantitative"},"y":{"field":"v","type":"quantitative"},"x2":{"field":"u2"},"y2":{"field":"v2"}}},
{"data":{"name":"heads"},"mark":{"type":"point","shape":"M1,0L-1,-0.68L-1,0.68Z","filled":true,"color":"#000","opacity":1,"size":625},
 "encoding":{"x":{"field":"u","type":"quantitative"},"y":{"field":"v","type":"quantitative"},"angle":{"field":"a","type":"quantitative","scale":null}}}
]
}
],
"resolve": {"scale": {"x": "independent", "y": "independent", "color": "independent"}}
}
